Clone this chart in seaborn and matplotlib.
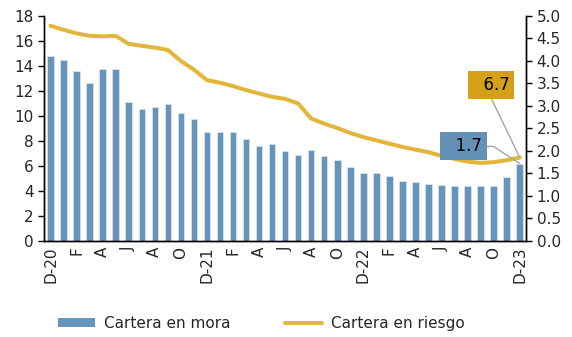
import numpy as np
import pandas as pd
import matplotlib
matplotlib.use("Agg")
import matplotlib.pyplot as plt
import seaborn as sns
from matplotlib.patches import Patch
from matplotlib.lines import Line2D

# monthly data, Dec-20 .. Dec-23
meses = ["D-20", "E", "F", "M", "A", "M", "J", "J", "A", "S", "O", "N",
         "D-21", "E", "F", "M", "A", "M", "J", "J", "A", "S", "O", "N",
         "D-22", "E", "F", "M", "A", "M", "J", "J", "A", "S", "O", "N",
         "D-23"]

# Cartera en mora (right axis)
mora = [4.11, 4.02, 3.78, 3.51, 3.82, 3.82, 3.08, 2.94, 2.97, 3.04, 2.84, 2.70,
        2.43, 2.43, 2.43, 2.26, 2.12, 2.16, 1.99, 1.92, 2.03, 1.89, 1.79, 1.65,
        1.51, 1.50, 1.44, 1.34, 1.30, 1.27, 1.24, 1.21, 1.21, 1.21, 1.21, 1.41,
        1.72]

# Cartera en riesgo (left axis)
riesgo = [17.2, 16.88, 16.6, 16.4, 16.36, 16.4, 15.76, 15.6, 15.46, 15.27, 14.39, 13.7,
          12.86, 12.65, 12.38, 12.06, 11.79, 11.52, 11.36, 10.99, 9.78, 9.38, 9.03, 8.63,
          8.31, 8.04, 7.78, 7.52, 7.30, 7.10, 6.80, 6.56, 6.34, 6.24, 6.30, 6.46,
          6.67]

etiquetas = [m if i % 2 == 0 else "" for i, m in enumerate(meses)]

df = pd.DataFrame({"pos": np.arange(len(meses)), "mora": mora, "riesgo": riesgo})

sns.set_style("white")
plt.rcParams["font.family"] = ["DejaVu Sans"]

c_bar = "#6794B9"
c_line = "#E3B53A"

fig = plt.figure(figsize=(5.72, 3.37), dpi=100)
ax = fig.add_axes([0.077, 0.285, 0.843, 0.668])
ax2 = ax.twinx()

# bars on right axis
sns.barplot(data=df, x="pos", y="mora", color=c_bar, width=0.5, native_scale=True,
            saturation=1, edgecolor="#D6E3EE", linewidth=0.6, ax=ax2)
# line on left axis
sns.lineplot(data=df, x="pos", y="riesgo", color=c_line, linewidth=2.9, ax=ax)

ax.set_zorder(ax2.get_zorder() + 1)
ax.patch.set_visible(False)

ax.set_ylim(0, 18)
ax.set_yticks(range(0, 19, 2))
ax2.set_ylim(0, 5)
ax2.set_yticks(np.arange(0, 5.01, 0.5))
ax2.set_yticklabels([f"{v:.1f}" for v in np.arange(0, 5.01, 0.5)])
ax.set_xlim(-0.5, 36.5)
ax2.set_xlim(-0.5, 36.5)

ax.set_xticks(df["pos"])
ax.set_xticklabels(etiquetas, rotation=90)
ax.set_xticks(np.arange(-0.5, 37, 1), minor=True)
ax.tick_params(axis="x", which="major", length=0, labelsize=11, pad=4)
ax.tick_params(axis="x", which="minor", length=4, width=1, direction="out", color="black")
ax.tick_params(axis="y", length=4, width=1, direction="out", labelsize=11, color="black")
ax2.tick_params(axis="y", length=4, width=1, direction="out", labelsize=11, color="black")

for a in (ax, ax2):
    a.set_xlabel("")
    a.set_ylabel("")
    a.spines["top"].set_visible(False)
    for s in ("left", "right", "bottom"):
        a.spines[s].set_color("black")
        a.spines[s].set_linewidth(1)
ax2.tick_params(axis="x", length=0, labelbottom=False)

# callouts
ax.annotate("  6.7", xy=(36, riesgo[-1]), xytext=(33.8, 12.46), ha="center", va="center",
            fontsize=12, color="black",
            bbox=dict(boxstyle="square,pad=0.3", fc="#D4A017", ec="none"),
            arrowprops=dict(arrowstyle="-", color="#A6A6A6", lw=1, shrinkA=0, shrinkB=0,
                            relpos=(0.45, 0)))
ax.annotate("  1.7", xy=(36, mora[-1] * 3.6), xytext=(31.7, 7.56), ha="center", va="center",
            fontsize=12, color="black",
            bbox=dict(boxstyle="square,pad=0.3", fc="#6591B7", ec="none"),
            arrowprops=dict(arrowstyle="-", color="#A6A6A6", lw=1, shrinkA=0, shrinkB=0,
                            relpos=(1, 0.5),
                            connectionstyle="angle,angleA=0,angleB=-33,rad=0"))

# legend
handles = [Patch(facecolor=c_bar, edgecolor="none"),
           Line2D([0], [0], color=c_line, lw=2.9)]
fig.legend(handles, ["Cartera en mora", "Cartera en riesgo"], loc="center",
           bbox_to_anchor=(0.457, 0.04), ncol=2, frameon=False, fontsize=11,
           handlelength=2.4, handleheight=0.6, handletextpad=0.6, columnspacing=3.6)

fig.savefig("out.png", dpi=100)
